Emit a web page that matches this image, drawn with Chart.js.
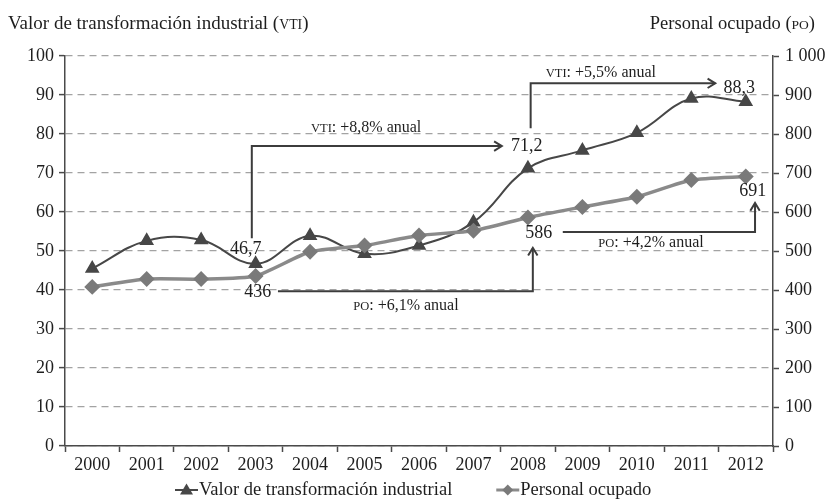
<!DOCTYPE html>
<html><head><meta charset="utf-8">
<script src="https://cdn.jsdelivr.net/npm/chart.js@4/dist/chart.umd.min.js"></script>
<style>html,body{margin:0;padding:0;background:#fff;}#wrap{width:831px;height:501px;}</style>
</head><body><div id="wrap"><canvas id="c" width="831" height="501"></canvas></div>
<script>
const years = ['2000','2001','2002','2003','2004','2005','2006','2007','2008','2009','2010','2011','2012'];
const vti = [45.5, 52.6, 52.8, 46.7, 53.9, 49.3, 51.4, 57.4, 71.2, 75.8, 80.3, 89.1, 88.3];
const po  = [408, 428, 428, 436, 498, 514, 540, 552, 586, 613, 639, 682, 691];
const leftTicks = [0,10,20,30,40,50,60,70,80,90,100];
const rightTicks = [0,100,200,300,400,500,600,700,800,900,1000];
const seriesNames = ['Valor de transformación industrial', 'Personal ocupado'];

const SERIF = '"Liberation Serif", "Times New Roman", serif';
const DARK = '#474747', LIGHT = '#8a8a8a', TXT = '#1e1e1e', AX = '#4a4a4a';

function drawParts(ctx, parts, x, y, align) {
  let w = 0;
  parts.forEach(p => { ctx.font = p[1] + 'px ' + SERIF; p.w = ctx.measureText(p[0]).width; w += p.w; });
  let cx = align === 'center' ? x - w/2 : (align === 'right' ? x - w : x);
  ctx.textAlign = 'left'; ctx.textBaseline = 'alphabetic';
  parts.forEach(p => { ctx.font = p[1] + 'px ' + SERIF; ctx.fillText(p[0], cx, y); cx += p.w; });
}

function arrow(ctx, pts) {
  ctx.save();
  ctx.strokeStyle = '#3c3c3c'; ctx.lineWidth = 2; ctx.lineJoin = 'miter';
  ctx.beginPath();
  ctx.moveTo(pts[0][0], pts[0][1]);
  for (let i = 1; i < pts.length; i++) ctx.lineTo(pts[i][0], pts[i][1]);
  ctx.stroke();
  const a = pts[pts.length-2], b = pts[pts.length-1];
  const ang = Math.atan2(b[1]-a[1], b[0]-a[0]);
  const L = 9, s = 0.55;
  ctx.beginPath();
  ctx.moveTo(b[0] - L*Math.cos(ang - s), b[1] - L*Math.sin(ang - s));
  ctx.lineTo(b[0], b[1]);
  ctx.lineTo(b[0] - L*Math.cos(ang + s), b[1] - L*Math.sin(ang + s));
  ctx.stroke();
  ctx.restore();
}

const overlay = {
  id: 'overlay',
  afterDraw(chart) {
    const ctx = chart.ctx, X = chart.scales.x, Y = chart.scales.y, Y1 = chart.scales.y1;
    const px = v => X.getPixelForValue(v);
    const py = v => Y.getPixelForValue(v);
    const py1 = v => Y1.getPixelForValue(v);
    ctx.save();
    ctx.fillStyle = TXT;
    // axis titles
    drawParts(ctx, [['Valor de transformación industrial (',19],['VTI',13.8],[')',19]], 8, 29, 'left');
    drawParts(ctx, [['Personal ocupado (',18.5],['PO',13.5],[')',18.5]], 815, 29, 'right');

    const A = 16, S = 12.5;
    // VTI 2003 -> 2008
    arrow(ctx, [[px(2.93), py(53.3)], [px(2.93), py(76.9)], [px(7.52), py(76.9)]]);
    drawParts(ctx, [['VTI',S],[': +8,8% anual',A]], px(5.03), py(80.6), 'center');
    drawParts(ctx, [['46,7',18]], px(2.82), py(49.2), 'center');
    drawParts(ctx, [['71,2',18]], px(7.98), py(75.6), 'center');
    // VTI 2008 -> 2012
    arrow(ctx, [[px(8.05), py(81.5)], [px(8.05), py(93.0)], [px(11.44), py(93.0)]]);
    drawParts(ctx, [['VTI',S],[': +5,5% anual',A]], px(9.34), py(94.5), 'center');
    drawParts(ctx, [['88,3',18]], px(11.88), py(90.6), 'center');
    // PO 2003 -> 2008
    arrow(ctx, [[px(3.41), py1(397)], [px(8.09), py1(397)], [px(8.09), py1(508)]]);
    drawParts(ctx, [['PO',S],[': +6,1% anual',A]], px(5.76), py1(348), 'center');
    drawParts(ctx, [['436',18]], px(3.04), py1(382), 'center');
    drawParts(ctx, [['586',18]], px(8.2), py1(533), 'center');
    // PO 2008 -> 2012
    arrow(ctx, [[px(8.64), py1(549)], [px(12.17), py1(549)], [px(12.17), py1(623)]]);
    drawParts(ctx, [['PO',S],[': +4,2% anual',A]], px(10.26), py1(509), 'center');
    drawParts(ctx, [['691',18]], px(12.13), py1(640), 'center');

    // legend
    const ly = 490;
    ctx.font = '18.5px ' + SERIF;
    const w1 = ctx.measureText(seriesNames[0]).width;
    const mw = 23, gap = 1, sep = 44;
    let lx = 175;
    ctx.strokeStyle = DARK; ctx.lineWidth = 2;
    ctx.beginPath(); ctx.moveTo(lx, ly); ctx.lineTo(lx + mw, ly); ctx.stroke();
    ctx.fillStyle = DARK;
    ctx.beginPath(); ctx.moveTo(lx+mw/2, ly-6.5); ctx.lineTo(lx+mw/2+6.5, ly+4.5); ctx.lineTo(lx+mw/2-6.5, ly+4.5); ctx.closePath(); ctx.fill();
    ctx.fillStyle = TXT; ctx.textAlign = 'left'; ctx.textBaseline = 'middle';
    ctx.fillText(seriesNames[0], lx + mw + gap, ly);
    lx += mw + gap + w1 + sep;
    ctx.strokeStyle = LIGHT; ctx.lineWidth = 3;
    ctx.beginPath(); ctx.moveTo(lx, ly); ctx.lineTo(lx + mw, ly); ctx.stroke();
    ctx.fillStyle = '#7a7a7a';
    ctx.beginPath(); ctx.moveTo(lx+mw/2, ly-5.5); ctx.lineTo(lx+mw/2+5.5, ly); ctx.lineTo(lx+mw/2, ly+5.5); ctx.lineTo(lx+mw/2-5.5, ly); ctx.closePath(); ctx.fill();
    ctx.fillStyle = TXT;
    ctx.fillText(seriesNames[1], lx + mw + gap, ly);
    ctx.restore();
  }
};

new Chart(document.getElementById('c'), {
  type: 'line',
  data: {
    labels: years,
    datasets: [
      { label: seriesNames[0], data: vti, yAxisID: 'y', borderColor: DARK, backgroundColor: DARK,
        borderWidth: 2, tension: 0.4, pointStyle: 'triangle', pointRadius: 6.5,
        pointBackgroundColor: DARK, pointBorderColor: DARK, order: 2 },
      { label: seriesNames[1], data: po, yAxisID: 'y1', borderColor: LIGHT, backgroundColor: '#7a7a7a',
        borderWidth: 3.5, tension: 0.2, pointStyle: 'rectRot', pointRadius: 5.5,
        pointBackgroundColor: '#7a7a7a', pointBorderColor: '#7a7a7a', order: 1 }
    ]
  },
  options: {
    responsive: false, animation: false, devicePixelRatio: 1,
    layout: { padding: { top: 56, left: 0, right: 0, bottom: 0 } },
    plugins: { legend: { display: false }, tooltip: { enabled: false }, title: { display: false } },
    scales: {
      x: {
        type: 'category', offset: true,
        grid: { offset: true, drawOnChartArea: false, tickLength: 6, tickColor: AX, tickWidth: 1.5 },
        border: { color: AX, width: 1.5 },
        ticks: { color: TXT, font: { family: SERIF, size: 18 }, padding: 2, autoSkip: false, maxRotation: 0 },
        afterFit: s => { s.height = 55; }
      },
      y: {
        position: 'left', min: 0, max: 100,
        afterBuildTicks: s => { s.ticks = leftTicks.map(v => ({ value: v })); },
        grid: { color: '#a3a3a3', lineWidth: 1.2, tickLength: 6, tickColor: AX, tickWidth: 1.5, tickBorderDash: [] },
        border: { color: AX, width: 1.5, dash: [7, 5] },
        ticks: { color: TXT, font: { family: SERIF, size: 18 }, padding: 5 },
        afterFit: s => { s.width = 65; }
      },
      y1: {
        position: 'right', min: 0, max: 1000,
        afterBuildTicks: s => { s.ticks = rightTicks.map(v => ({ value: v })); },
        grid: { drawOnChartArea: false, tickLength: 6, tickColor: AX, tickWidth: 1.5 },
        border: { color: AX, width: 1.5 },
        ticks: { color: TXT, font: { family: SERIF, size: 18 }, padding: 6,
                 callback: v => v >= 1000 ? '1 000' : String(v) },
        afterFit: s => { s.width = 58; }
      }
    }
  },
  plugins: [overlay]
});
</script></body></html>
